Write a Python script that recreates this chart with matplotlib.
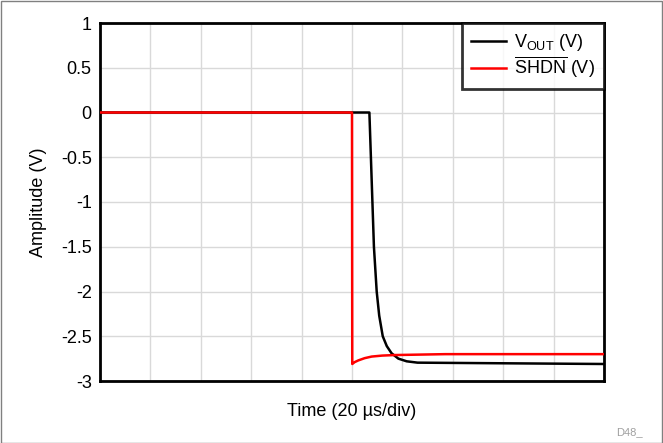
import matplotlib
matplotlib.use("Agg")
import matplotlib.pyplot as plt
from matplotlib.patches import Rectangle

plt.rcParams['font.family'] = ['Liberation Sans', 'DejaVu Sans']
plt.rcParams['mathtext.fontset'] = 'custom'
plt.rcParams['mathtext.rm'] = 'Liberation Sans'
plt.rcParams['mathtext.it'] = 'Liberation Sans'

# time in microseconds
vout_t = [0, 106.9, 107.5, 108.1, 108.7, 109.8, 110.8, 112.2, 113.8, 115.7,
          118.4, 121.7, 126.0, 150.0, 200.0]
vout_v = [0, 0, -0.5, -1.0, -1.5, -2.0, -2.27, -2.5, -2.61, -2.69,
          -2.75, -2.78, -2.795, -2.80, -2.81]

shdn_t = [0, 100.0, 100.1, 101.0, 102.5, 105.0, 107.8, 112.0, 117.0, 137.0, 170.0, 200.0]
shdn_v = [0, 0, -2.81, -2.79, -2.77, -2.745, -2.727, -2.716, -2.71, -2.70, -2.70, -2.70]

yticks = [1, 0.5, 0, -0.5, -1, -1.5, -2, -2.5, -3]
ytick_labels = ['1', '0.5', '0', '-0.5', '-1', '-1.5', '-2', '-2.5', '-3']

fig = plt.figure(figsize=(6.63, 4.43), dpi=100)
ax = fig.add_axes([100/663, 1-381/443, 504/663, 358/443])

ax.plot(vout_t, vout_v, color='black', lw=1.8, label=r'$\mathregular{V_{OUT}}$ (V)', zorder=3)
ax.plot(shdn_t, shdn_v, color='#ff0000', lw=1.8, label=r'$\overline{\mathregular{SHDN}}$ (V)', zorder=4)

ax.set_xlim(0, 200)
ax.set_ylim(-3, 1)
ax.set_xticks(range(0, 201, 20))
ax.set_xticklabels([])
ax.set_yticks(yticks)
ax.set_yticklabels(ytick_labels, fontsize=13)
ax.tick_params(axis='both', length=0, pad=6)
ax.grid(True, color='#d9d9d9', lw=1)
ax.set_axisbelow(True)
for s in ax.spines.values():
    s.set_linewidth(2)
    s.set_color('black')

ax.set_xlabel('Time (20 µs/div)', fontsize=13, labelpad=10)
ax.set_ylabel('Amplitude (V)', fontsize=13, labelpad=10)

leg = ax.legend(loc='upper right', fontsize=13, frameon=True, fancybox=False,
                borderaxespad=0, handlelength=1.95, labelspacing=0.1,
                borderpad=0.5, handletextpad=0.45)
leg.get_frame().set_edgecolor('black')
leg.get_frame().set_linewidth(2)

fig.text(643/663, 1-437/443, 'D48_', fontsize=8, color='#a0a0a0', ha='right', va='bottom')

fig.patches.append(Rectangle((0.001, 0.001), 0.998, 0.997, transform=fig.transFigure,
                             fill=False, edgecolor='#808080', lw=1))

fig.savefig('out.png', dpi=100)
